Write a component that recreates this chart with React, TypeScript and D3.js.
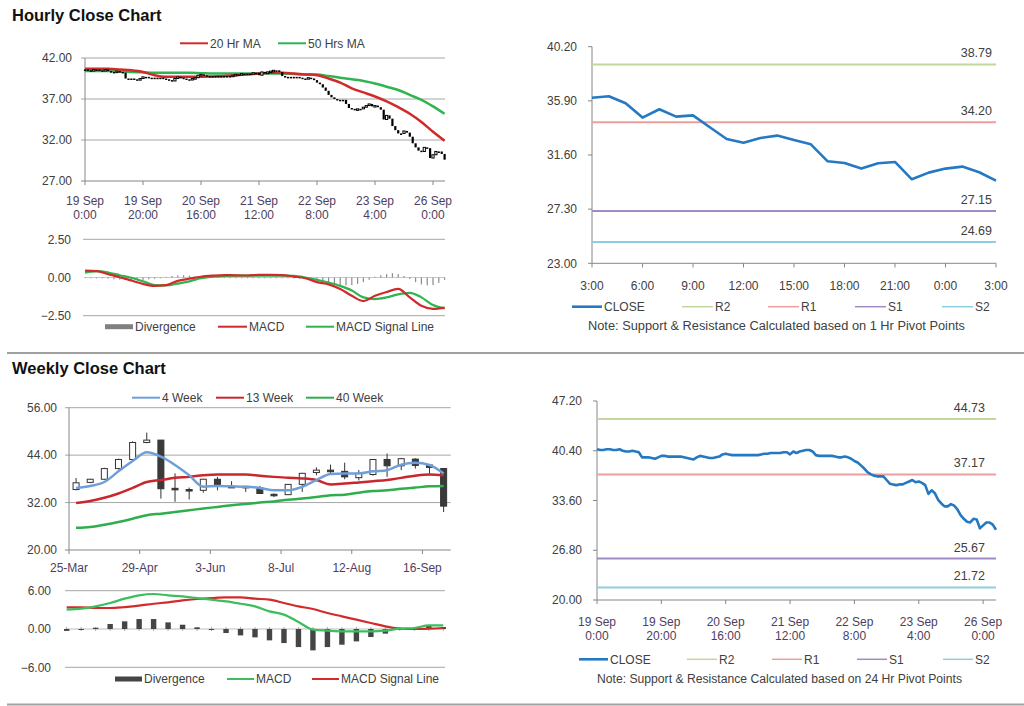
import React from "react";
import * as d3 from "d3";

// ---------------- DATA ----------------
// Hourly closes (19 Sep 0:00 .. 26 Sep 3:00), one per hour bar
const hourlyClose = [
  40.6, 40.5, 40.5, 40.6, 40.6, 40.5, 40.5, 40.6, 40.4, 40.3,
  40.3, 40.4, 40.3, 40.2, 39.5, 39.5, 39.5, 39.4, 39.3, 39.5,
  39.7, 39.7, 39.6, 39.6, 39.6, 39.6, 39.6, 39.5, 39.4, 39.3,
  39.2, 39.5, 39.7, 39.6, 39.5, 39.4, 39.4, 39.5, 39.6, 39.9,
  40.0, 39.9, 39.8, 39.8, 39.8, 39.8, 39.8, 39.8, 39.8, 39.8,
  39.8, 39.9, 40.0, 40.0, 40.1, 40.1, 40.1, 40.1, 40.2, 40.2,
  39.9, 40.3, 40.1, 40.3, 40.4, 40.5, 40.5, 40.3, 39.8, 39.7,
  39.7, 39.7, 39.7, 39.7, 39.6, 39.5, 39.5, 39.6, 39.5, 39.3,
  39.0, 38.8, 38.4, 38.0, 37.5, 37.2, 37.0, 36.9, 36.9, 36.9,
  36.4, 35.9, 35.8, 35.7, 35.8, 35.8, 36.0, 36.2, 36.4, 36.1,
  36.2, 36.0, 35.7, 34.5, 35.0, 34.6, 33.7, 33.2, 32.8, 32.8,
  33.1, 32.9, 32.4, 31.6, 31.1, 30.7, 30.6, 31.1, 31.0, 29.8,
  30.2, 30.6, 30.6, 30.3, 29.6,
];
const hourlyTickLabels = [
  ["19 Sep", "0:00"], ["19 Sep", "20:00"], ["20 Sep", "16:00"], ["21 Sep", "12:00"],
  ["22 Sep", "8:00"], ["23 Sep", "4:00"], ["26 Sep", "0:00"],
];
const hourlyTickStep = 20;
// moving averages, read every 4 bars
const maStep = 4;
const ma20Hr = [40.7, 40.7, 40.7, 40.6, 40.5, 40.3, 39.9, 39.7, 39.7, 39.7, 39.7, 39.75, 39.8, 39.9, 40.0, 40.1,
  40.2, 40.2, 40.1, 40.0, 39.9, 39.5, 39.0, 38.3, 37.8, 37.3, 36.7, 36.0, 35.2, 34.2, 33.0, 31.9];
const ma50Hrs = [40.4, 40.4, 40.4, 40.35, 40.3, 40.25, 40.2, 40.2, 40.2, 40.2, 40.15, 40.1, 40.1, 40.1, 40.1, 40.1,
  40.1, 40.1, 40.05, 40.0, 40.0, 39.8, 39.6, 39.4, 39.2, 38.9, 38.5, 38.1, 37.5, 36.9, 36.1, 35.2];
const hourlyMacd = [0.45, 0.42, 0.22, 0.02, -0.2, -0.42, -0.55, -0.5, -0.22, -0.08, 0.05, 0.12, 0.16, 0.14, 0.13, 0.17,
  0.17, 0.16, 0.06, -0.05, -0.3, -0.45, -0.75, -1.2, -1.54, -1.2, -0.95, -0.75, -1.3, -1.85, -2.05, -1.97];
const hourlySignal = [0.32, 0.42, 0.33, 0.15, -0.02, -0.25, -0.5, -0.52, -0.4, -0.25, -0.05, 0.06, 0.1, 0.12, 0.12, 0.12,
  0.12, 0.12, 0.1, 0.0, -0.15, -0.33, -0.55, -0.85, -1.3, -1.41, -1.3, -1.1, -1.0, -1.3, -1.8, -2.02];
const divStep = 2;
const hourlyDivergence = [
  0.02, 0.0, -0.02, -0.05, -0.08, -0.12, -0.14, -0.16, -0.17, -0.17,
  -0.16, -0.12, -0.08, -0.02, 0.04, 0.1, 0.14, 0.15, 0.12, 0.08,
  0.05, 0.03, 0.02, 0.02, 0.01, -0.02, -0.03, -0.03, -0.03, -0.04,
  -0.04, -0.04, -0.03, -0.03, -0.04, -0.05, -0.06, -0.08, -0.1, -0.15,
  -0.22, -0.3, -0.38, -0.45, -0.5, -0.52, -0.5, -0.42, -0.3, -0.15,
  0.05, 0.15, 0.22, 0.28, 0.22, 0.1, -0.1, -0.3, -0.45, -0.52,
  -0.5, -0.35, -0.15,
];

// 1-hour pivot chart
const pivotHourLabels = ["3:00", "6:00", "9:00", "12:00", "15:00", "18:00", "21:00", "0:00", "3:00"];
const pivotClose = [36.15, 36.26, 35.71, 34.57, 35.23, 34.65, 34.75, 33.8, 32.87, 32.58, 32.95, 33.14, 32.79,
  32.45, 31.1, 30.97, 30.52, 30.94, 31.05, 29.67, 30.2, 30.52, 30.68, 30.23, 29.57];
const pivotNames = ["R2", "R1", "S1", "S2"];
const hourPivotLevels = [38.79, 34.2, 27.15, 24.69];
const dayPivotLevels = [44.73, 37.17, 25.67, 21.72];
const hourPivotTicks = [23.0, 27.3, 31.6, 35.9, 40.2];
const dayPivotTicks = [20.0, 26.8, 33.6, 40.4, 47.2];

// weekly
const weekTickLabels = ["25-Mar", "29-Apr", "3-Jun", "8-Jul", "12-Aug", "16-Sep"];
const weekOpen = [35.3, 37.1, 37.9, 40.6, 42.9, 47.2, 47.8, 35.6, 35.3, 35.1, 37.9, 36.1, 36.1, 35.7, 34.1, 34.0, 36.6, 39.6, 40.2, 39.9, 38.3, 39.1, 42.9, 41.3, 43.0, 41.5, 40.6];
const weekHigh = [38.2, 38.0, 40.8, 43.1, 47.5, 49.7, 47.8, 39.4, 35.8, 38.0, 38.5, 37.4, 36.2, 36.2, 34.3, 36.7, 39.5, 40.9, 41.6, 42.1, 40.2, 43.0, 44.4, 43.3, 43.2, 41.6, 40.6];
const weekLow = [35.1, 36.9, 37.8, 40.4, 42.9, 47.0, 33.0, 32.2, 32.8, 34.5, 35.1, 35.9, 34.7, 34.2, 33.4, 33.9, 34.7, 38.9, 39.5, 37.9, 37.6, 38.8, 38.5, 40.2, 40.6, 39.3, 29.6];
const weekClose = [37.0, 37.9, 40.6, 42.9, 47.2, 47.8, 35.5, 35.3, 35.1, 37.9, 36.6, 35.9, 35.8, 34.3, 33.8, 36.6, 39.4, 40.2, 39.8, 38.5, 39.4, 42.9, 41.3, 43.1, 41.4, 40.9, 31.1];
const ma4Week = [35.7, 36.2, 37.2, 39.9, 42.5, 44.7, 43.6, 41.5, 38.9, 36.0, 36.2, 36.1, 36.0, 35.7, 35.1, 35.1, 36.0, 37.7, 39.2, 39.35, 39.35, 39.9, 40.2, 41.6, 42.1, 41.5, 39.35];
const ma13Week = [31.9, 32.4, 33.2, 34.3, 35.7, 37.2, 37.7, 38.25, 38.5, 38.9, 39.1, 39.1, 39.1, 38.8, 38.5, 38.25, 38.1, 37.7, 36.6, 36.8, 37.1, 37.4, 37.7, 38.25, 38.8, 39.1, 38.9];
const ma40Week = [25.6, 25.8, 26.4, 27.1, 27.9, 28.8, 29.2, 29.6, 30.05, 30.5, 30.9, 31.3, 31.65, 32.0, 32.3, 32.7, 33.0, 33.4, 33.85, 34.0, 34.5, 34.9, 35.1, 35.5, 35.8, 36.1, 36.2];
const weeklyMacd = [3.02, 3.18, 3.55, 4.07, 4.75, 5.27, 5.48, 5.27, 5.1, 4.85, 4.6, 4.33, 3.96, 3.55, 2.76, 2.25, 1.1, -0.1, -0.26, -0.37, -0.37, -0.37, -0.26, 0.05, 0.16, 0.57, 0.57];
const weeklySignal = [3.39, 3.39, 3.29, 3.29, 3.44, 3.65, 3.96, 4.18, 4.49, 4.7, 4.85, 4.96, 4.96, 4.75, 4.6, 4.07, 3.55, 3.13, 2.5, 1.98, 1.46, 0.94, 0.42, 0.05, 0.0, 0.05, 0.16];
const weeklyDivergence = [-0.3, -0.1, 0.2, 0.78, 1.2, 1.56, 1.56, 1.04, 0.67, 0.26, -0.1, -0.63, -1.0, -1.31, -1.78, -2.2, -2.83, -3.35, -2.83, -2.46, -1.94, -1.26, -0.73, -0.1, 0.05, 0.47, 0.3];

// ---------------- STYLE ----------------
const FONT = "'Liberation Sans', Arial, Helvetica, sans-serif";
const AXIS = "#868686";
const GRID = "#a6a6a6";
const TXT = "#404040";
const XTXT = "#4e3e60";
const PIVOT_COLORS = ["#c3d69b", "#ec9f9f", "#a08bc6", "#8dcfe0"];
const CLOSE_BLUE = "#2479c2";

const fmt2 = d3.format(".2f");

function Legend({ items, y }: { items: { x: number; label: string; color: string; w?: number; box?: boolean; len?: number }[]; y: number }) {
  return (
    <g>
      {items.map((it, i) => (
        <g key={i}>
          {it.box ? (
            <rect x={it.x} y={y - 2.5} width={it.len ?? 27} height={5} fill={it.color} />
          ) : (
            <line x1={it.x} x2={it.x + (it.len ?? 28)} y1={y} y2={y} stroke={it.color} strokeWidth={it.w ?? 2} />
          )}
          <text x={it.x + (it.len ?? 28) + 2} y={y} dy="0.35em" fontSize={12} fill={TXT}>{it.label}</text>
        </g>
      ))}
    </g>
  );
}

export default function App() {
  // ---------- Hourly candle chart ----------
  const hx = d3.scaleLinear().domain([0, 124]).range([85, 444.6]);
  const hy = d3.scaleLinear().domain([27, 42]).range([181, 58]);
  const hYTicks = [27, 32, 37, 42];
  const hXTicks = hourlyTickLabels.map((_, k) => k * hourlyTickStep);
  const maLine = d3.line<number>().x((_, i) => hx(i * maStep)).y((d) => hy(d)).curve(d3.curveMonotoneX);

  // ---------- Hourly MACD ----------
  const my = d3.scaleLinear().domain([-2.5, 2.5]).range([315.7, 239.3]);
  const hmLine = d3.line<number>().x((_, i) => hx(i * maStep)).y((d) => my(d)).curve(d3.curveMonotoneX);

  // ---------- Top-right pivot ----------
  const px = d3.scaleLinear().domain([0, 24]).range([592, 996]);
  const py = d3.scaleLinear().domain([23, 40.2]).range([263.3, 46.7]);
  const pLine = d3.line<number>().x((_, i) => px(i)).y((d) => py(d));

  // ---------- Weekly ----------
  const wx = d3.scaleLinear().domain([0, 27]).range([69, 450.7]);
  const wy = d3.scaleLinear().domain([20, 56]).range([550, 407.7]);
  const wYTicks = [20, 32, 44, 56];
  const wLine = d3.line<number>().x((_, i) => wx(i + 0.5)).y((d) => wy(d)).curve(d3.curveMonotoneX);

  // ---------- Weekly MACD ----------
  const wmx = d3.scaleLinear().domain([0, 26]).range([66.7, 443.3]);
  const wmy = d3.scaleLinear().domain([-6, 6]).range([667.3, 590.7]);
  const wmLine = d3.line<number>().x((_, i) => wmx(i)).y((d) => wmy(d)).curve(d3.curveMonotoneX);

  // ---------- Bottom-right pivot ----------
  const bx = d3.scaleLinear().domain([0, 124]).range([597, 996]);
  const by = d3.scaleLinear().domain([20, 47.2]).range([600, 401]);
  const bLine = d3.line<number>().x((_, i) => bx(i)).y((d) => by(d));

  return (
    <svg width={1024} height={706} style={{ position: "absolute", left: 0, top: 0, background: "#fff" }} fontFamily={FONT}>
      <rect x={0} y={0} width={1024} height={706} fill="#fff" />

      {/* ===== Hourly Close Chart ===== */}
      <text x={12} y={21} fontSize={16.5} fontWeight="bold" fill="#111">Hourly Close Chart</text>
      <Legend y={43.3} items={[
        { x: 180, label: "20 Hr MA", color: "#d12a2a" },
        { x: 278, label: "50 Hrs MA", color: "#2fb450" },
      ]} />
      {hYTicks.slice(1).map((v) => (
        <line key={v} x1={81} x2={445} y1={hy(v)} y2={hy(v)} stroke={GRID} strokeWidth={1} />
      ))}
      <line x1={85} x2={85} y1={hy(42)} y2={hy(27)} stroke={AXIS} />
      <line x1={81} x2={445} y1={hy(27)} y2={hy(27)} stroke={AXIS} />
      {hYTicks.map((v) => (
        <text key={v} x={72} y={hy(v)} dy="0.35em" textAnchor="end" fontSize={12} fill={TXT}>{fmt2(v)}</text>
      ))}
      {hXTicks.map((t, k) => (
        <g key={t}>
          <line x1={hx(t)} x2={hx(t)} y1={181} y2={185} stroke={AXIS} />
          <text x={hx(t)} y={204.5} textAnchor="middle" fontSize={12} fill={XTXT}>{hourlyTickLabels[k][0]}</text>
          <text x={hx(t)} y={218.5} textAnchor="middle" fontSize={12} fill={XTXT}>{hourlyTickLabels[k][1]}</text>
        </g>
      ))}
      <path d={maLine(ma50Hrs) || ""} fill="none" stroke="#2fb450" strokeWidth={2.5} />
      <path d={maLine(ma20Hr) || ""} fill="none" stroke="#d12a2a" strokeWidth={2.5} />
      {hourlyClose.map((c, i) => {
        const o = i === 0 ? c : hourlyClose[i - 1];
        const top = hy(Math.max(o, c));
        const h = Math.max(1.5, hy(Math.min(o, c)) - top);
        const up = c > o;
        return (
          <rect key={i} x={hx(i) - 1.1} y={top} width={2.2} height={h}
            fill={up ? "#fff" : "#000"} stroke="#000" strokeWidth={up ? 1 : 0} />
        );
      })}

      {/* ===== Hourly MACD ===== */}
      <line x1={83} x2={445} y1={my(2.5)} y2={my(2.5)} stroke={GRID} />
      <line x1={83} x2={445} y1={my(-2.5)} y2={my(-2.5)} stroke={GRID} />
      <line x1={85} x2={445} y1={my(0)} y2={my(0)} stroke="#c8c8c8" />
      {[2.5, 0, -2.5].map((v) => (
        <text key={v} x={71} y={my(v)} dy="0.35em" textAnchor="end" fontSize={12} fill={TXT}>{fmt2(v)}</text>
      ))}
      {hourlyDivergence.map((d, k) => (
        <rect key={k} x={hx(k * divStep) - 0.6} y={Math.min(my(d), my(0))} width={1.2}
          height={Math.max(0.8, Math.abs(my(d) - my(0)))} fill="#8c8c8c" />
      ))}
      <path d={hmLine(hourlySignal) || ""} fill="none" stroke="#2fb450" strokeWidth={2.2} />
      <path d={hmLine(hourlyMacd) || ""} fill="none" stroke="#d12a2a" strokeWidth={2.2} />
      <Legend y={326.7} items={[
        { x: 105, label: "Divergence", color: "#808080", box: true, len: 28 },
        { x: 218, label: "MACD", color: "#d12a2a", len: 29 },
        { x: 306, label: "MACD Signal Line", color: "#2fb450", len: 28 },
      ]} />

      {/* ===== Top-right pivot chart (1 Hr) ===== */}
      <line x1={592} x2={592} y1={py(40.2)} y2={py(23)} stroke={AXIS} />
      <line x1={592} x2={996} y1={py(23)} y2={py(23)} stroke={AXIS} />
      {hourPivotTicks.map((v) => (
        <g key={v}>
          <line x1={588} x2={592} y1={py(v)} y2={py(v)} stroke={AXIS} />
          <text x={577} y={py(v)} dy="0.35em" textAnchor="end" fontSize={12} fill={TXT}>{fmt2(v)}</text>
        </g>
      ))}
      {pivotHourLabels.map((lab, k) => (
        <g key={k}>
          <line x1={px(k * 3)} x2={px(k * 3)} y1={263.3} y2={267.5} stroke={AXIS} />
          <text x={px(k * 3)} y={289.5} textAnchor="middle" fontSize={12} fill={TXT}>{lab}</text>
        </g>
      ))}
      {hourPivotLevels.map((v, k) => (
        <g key={k}>
          <line x1={592} x2={996} y1={py(v)} y2={py(v)} stroke={PIVOT_COLORS[k]} strokeWidth={2} />
          <text x={992} y={py(v) - 7} textAnchor="end" fontSize={12.5} fill={TXT}>{fmt2(v)}</text>
        </g>
      ))}
      <path d={pLine(pivotClose) || ""} fill="none" stroke={CLOSE_BLUE} strokeWidth={2.6} strokeLinejoin="round" />
      <Legend y={306.7} items={[
        { x: 572, label: "CLOSE", color: CLOSE_BLUE, w: 2.6, len: 30 },
        ...pivotNames.map((n, k) => ({ x: [682, 768, 855, 942][k], label: n, color: PIVOT_COLORS[k], w: 1.5, len: 31 })),
      ]} />
      <text x={588} y={330} fontSize={12} fill={TXT} textLength={377} lengthAdjust="spacingAndGlyphs">Note: Support &amp; Resistance Calculated based on 1 Hr Pivot Points</text>

      {/* divider */}
      <line x1={7} x2={1024} y1={353} y2={353} stroke="#a0a0a0" strokeWidth={2} />

      {/* ===== Weekly Close Chart ===== */}
      <text x={12} y={374} fontSize={16.5} fontWeight="bold" fill="#111">Weekly Close Chart</text>
      <Legend y={397.7} items={[
        { x: 132, label: "4 Week", color: "#6f9fd8" },
        { x: 216, label: "13 Week", color: "#c9272d" },
        { x: 306, label: "40 Week", color: "#2fae4e" },
      ]} />
      {wYTicks.slice(1).map((v) => (
        <line key={v} x1={65} x2={450.7} y1={wy(v)} y2={wy(v)} stroke={GRID} />
      ))}
      <line x1={69} x2={69} y1={wy(56)} y2={wy(20)} stroke={AXIS} />
      <line x1={65} x2={450.7} y1={wy(20)} y2={wy(20)} stroke={AXIS} />
      {wYTicks.map((v) => (
        <text key={v} x={57} y={wy(v)} dy="0.35em" textAnchor="end" fontSize={12} fill={TXT}>{fmt2(v)}</text>
      ))}
      {weekTickLabels.map((lab, k) => (
        <g key={k}>
          <line x1={wx(k * 5)} x2={wx(k * 5)} y1={550} y2={554} stroke={AXIS} />
          <text x={wx(k * 5)} y={571.5} textAnchor="middle" fontSize={12} fill={XTXT}>{lab}</text>
        </g>
      ))}
      {weekClose.map((c, i) => {
        const o = weekOpen[i];
        const cx = wx(i + 0.5);
        const top = wy(Math.max(o, c));
        const h = Math.max(1.5, wy(Math.min(o, c)) - top);
        const up = c > o;
        return (
          <g key={i}>
            <line x1={cx} x2={cx} y1={wy(weekHigh[i])} y2={wy(weekLow[i])} stroke="#333" strokeWidth={1} />
            <rect x={cx - 3} y={top} width={6} height={h} fill={up ? "#fff" : "#3a3a3a"} stroke="#333" strokeWidth={1} />
          </g>
        );
      })}
      <path d={wLine(ma40Week) || ""} fill="none" stroke="#2fae4e" strokeWidth={2.5} />
      <path d={wLine(ma13Week) || ""} fill="none" stroke="#c9272d" strokeWidth={2.5} />
      <path d={wLine(ma4Week) || ""} fill="none" stroke="#6f9fd8" strokeWidth={2.5} />

      {/* ===== Weekly MACD ===== */}
      <line x1={65} x2={445} y1={wmy(6)} y2={wmy(6)} stroke={GRID} />
      <line x1={65} x2={445} y1={wmy(-6)} y2={wmy(-6)} stroke={GRID} />
      <line x1={65} x2={445} y1={wmy(0)} y2={wmy(0)} stroke="#bdbdbd" />
      {weeklyDivergence.map((_, i) => (
        <line key={"t" + i} x1={wmx(i)} x2={wmx(i)} y1={wmy(0) - 2} y2={wmy(0) + 2} stroke="#aaa" />
      ))}
      {[6, 0, -6].map((v) => (
        <text key={v} x={51} y={wmy(v)} dy="0.35em" textAnchor="end" fontSize={12} fill={TXT}>{fmt2(v)}</text>
      ))}
      {weeklyDivergence.map((d, i) => (
        <rect key={i} x={wmx(i) - 2.7} y={Math.min(wmy(d), wmy(0))} width={5.4}
          height={Math.max(1, Math.abs(wmy(d) - wmy(0)))} fill="#454545" />
      ))}
      <path d={wmLine(weeklySignal) || ""} fill="none" stroke="#d32b2b" strokeWidth={2.2} />
      <path d={wmLine(weeklyMacd) || ""} fill="none" stroke="#3dbd5e" strokeWidth={2.2} />
      <Legend y={679} items={[
        { x: 115, label: "Divergence", color: "#454545", box: true, len: 27 },
        { x: 227, label: "MACD", color: "#3dbd5e", len: 27 },
        { x: 312, label: "MACD Signal Line", color: "#d32b2b", len: 27 },
      ]} />

      {/* ===== Bottom-right pivot chart (24 Hr) ===== */}
      <line x1={597} x2={597} y1={by(47.2)} y2={by(20)} stroke={AXIS} />
      <line x1={597} x2={996} y1={by(20)} y2={by(20)} stroke={AXIS} />
      {dayPivotTicks.map((v) => (
        <g key={v}>
          <line x1={593} x2={597} y1={by(v)} y2={by(v)} stroke={AXIS} />
          <text x={582} y={by(v)} dy="0.35em" textAnchor="end" fontSize={12} fill={TXT}>{fmt2(v)}</text>
        </g>
      ))}
      {hXTicks.map((t, k) => (
        <g key={t}>
          <line x1={bx(t)} x2={bx(t)} y1={600} y2={604} stroke={AXIS} />
          <text x={bx(t)} y={625.5} textAnchor="middle" fontSize={12} fill={XTXT}>{hourlyTickLabels[k][0]}</text>
          <text x={bx(t)} y={639.5} textAnchor="middle" fontSize={12} fill={XTXT}>{hourlyTickLabels[k][1]}</text>
        </g>
      ))}
      {dayPivotLevels.map((v, k) => (
        <g key={k}>
          <line x1={597} x2={996} y1={by(v)} y2={by(v)} stroke={PIVOT_COLORS[k]} strokeWidth={2} />
          <text x={985} y={by(v) - 7} textAnchor="end" fontSize={12.5} fill={TXT}>{fmt2(v)}</text>
        </g>
      ))}
      <path d={bLine(hourlyClose) || ""} fill="none" stroke={CLOSE_BLUE} strokeWidth={2.6} strokeLinejoin="round" />
      <Legend y={659.3} items={[
        { x: 579, label: "CLOSE", color: CLOSE_BLUE, w: 2.6, len: 29 },
        ...pivotNames.map((n, k) => ({ x: [687, 772, 857, 943][k], label: n, color: PIVOT_COLORS[k], w: 1.5, len: 30 })),
      ]} />
      <text x={597} y={682.5} fontSize={12} fill={TXT} textLength={365} lengthAdjust="spacingAndGlyphs">Note: Support &amp; Resistance Calculated based on 24 Hr Pivot Points</text>

      <line x1={7} x2={1024} y1={704.5} y2={704.5} stroke="#a0a0a0" strokeWidth={2} />
    </svg>
  );
}
